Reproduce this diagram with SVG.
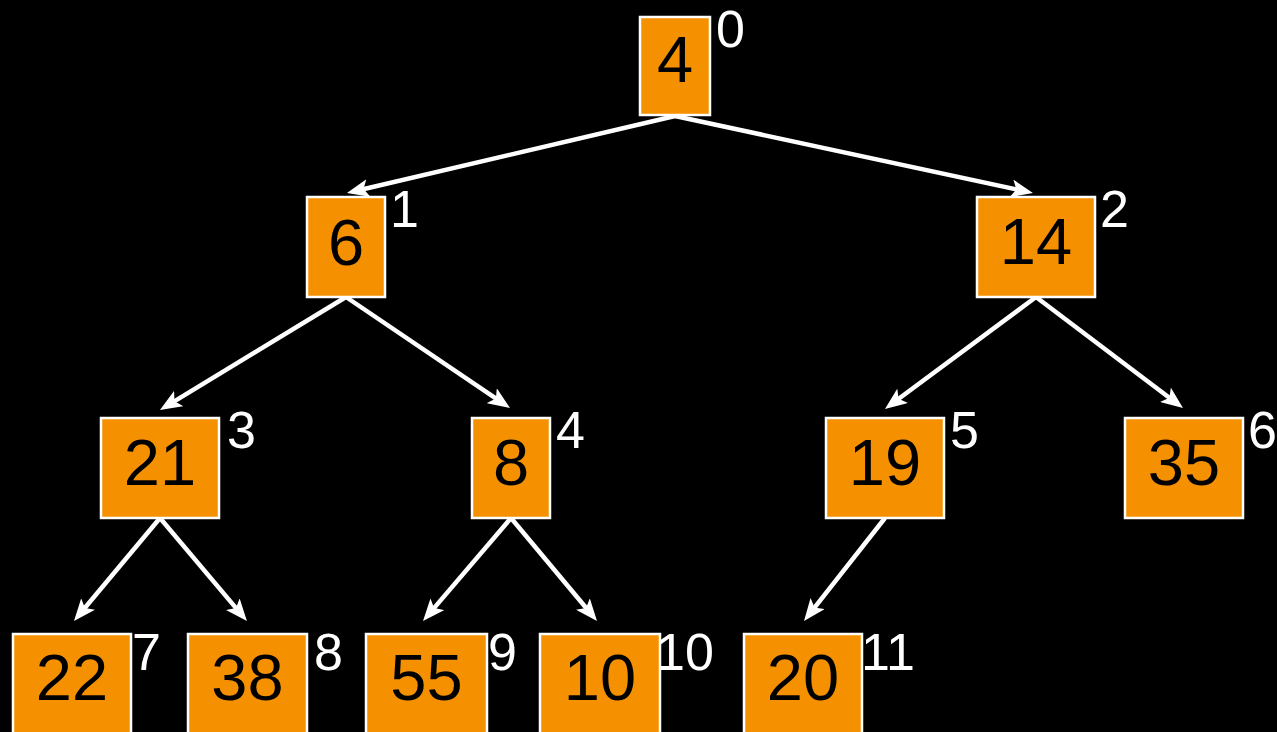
<svg xmlns="http://www.w3.org/2000/svg" width="1277" height="732" viewBox="0 0 1277 732">
<defs>
<style>
.box{fill:#F59100;stroke:#FFFFFF;stroke-width:2.5}
.val{font-family:"Liberation Sans",Arial,sans-serif;font-size:65px;fill:#000;text-anchor:middle}
.idx{font-family:"Liberation Sans",Arial,sans-serif;font-size:52px;fill:#FFF}
.edge{stroke:#FFF;stroke-width:4.5;fill:none;marker-end:url(#ah)}
</style>
<marker id="ah" markerUnits="userSpaceOnUse" markerWidth="22" markerHeight="18" viewBox="0 0 22 18" refX="12" refY="9" orient="auto">
<path d="M0,0 L22,9 L0,18 L5,9 z" fill="#FFF"/>
</marker>
</defs>
<rect width="1277" height="732" fill="#000"/>
<g id="connectors">
<line class="edge" x1="675" y1="116" x2="356.7" y2="190.7"/>
<line class="edge" x1="675" y1="116" x2="1023.2" y2="190.9"/>
<line class="edge" x1="346" y1="297" x2="168.5" y2="404.8"/>
<line class="edge" x1="346" y1="297" x2="501.7" y2="402.4"/>
<line class="edge" x1="1036" y1="297" x2="893" y2="403"/>
<line class="edge" x1="1036" y1="297" x2="1175" y2="402"/>
<line class="edge" x1="160" y1="518" x2="80.4" y2="613.3"/>
<line class="edge" x1="160" y1="518" x2="240.5" y2="613.4"/>
<line class="edge" x1="511" y1="518" x2="429.5" y2="613.4"/>
<line class="edge" x1="511" y1="518" x2="590.6" y2="613.3"/>
<line class="edge" x1="885" y1="518" x2="810.2" y2="613.1"/>
</g>
<g id="n0"><rect class="box" x="640" y="17" width="70" height="98"/><text class="val" x="675" y="82">4</text><text class="idx" x="716" y="47">0</text></g>
<g id="n1"><rect class="box" x="307" y="197" width="78" height="100"/><text class="val" x="346" y="265">6</text><text class="idx" x="390" y="227">1</text></g>
<g id="n2"><rect class="box" x="977" y="197" width="118" height="100"/><text class="val" x="1036" y="264">14</text><text class="idx" x="1100" y="227">2</text></g>
<g id="n3"><rect class="box" x="101" y="418" width="118" height="100"/><text class="val" x="160" y="485">21</text><text class="idx" x="227" y="448">3</text></g>
<g id="n4"><rect class="box" x="472" y="418" width="78" height="100"/><text class="val" x="511" y="485">8</text><text class="idx" x="556" y="448">4</text></g>
<g id="n5"><rect class="box" x="826" y="418" width="118" height="100"/><text class="val" x="885" y="485">19</text><text class="idx" x="950" y="448">5</text></g>
<g id="n6"><rect class="box" x="1125" y="418" width="118" height="100"/><text class="val" x="1184" y="485">35</text><text class="idx" x="1248" y="448">6</text></g>
<g id="n7"><rect class="box" x="13" y="634" width="118" height="110"/><text class="val" x="72" y="700">22</text><text class="idx" x="132" y="670">7</text></g>
<g id="n8"><rect class="box" x="188" y="634" width="119" height="110"/><text class="val" x="247.5" y="700">38</text><text class="idx" x="314" y="670">8</text></g>
<g id="n9"><rect class="box" x="366" y="634" width="121" height="110"/><text class="val" x="426.5" y="700">55</text><text class="idx" x="488" y="670">9</text></g>
<g id="n10"><rect class="box" x="540" y="634" width="120" height="110"/><text class="val" x="600" y="700">10</text><text class="idx" x="656" y="670">10</text></g>
<g id="n11"><rect class="box" x="744" y="634" width="118" height="110"/><text class="val" x="803" y="700">20</text><text class="idx" x="861" y="670">11</text></g>
</svg>
